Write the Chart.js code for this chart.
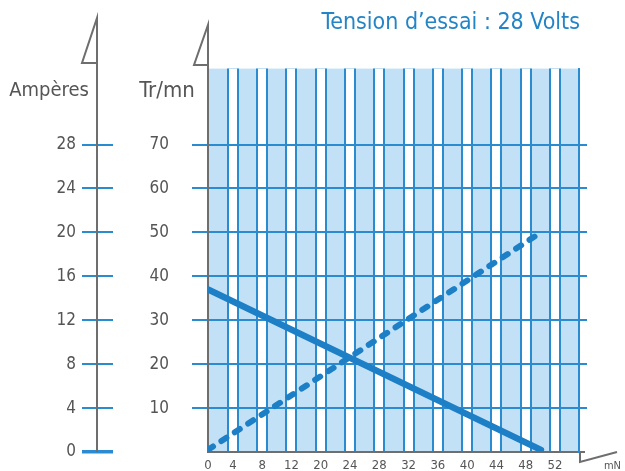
<!DOCTYPE html>
<html>
<head>
<meta charset="utf-8">
<title>Tension d'essai : 28 Volts</title>
<script src="https://cdn.jsdelivr.net/npm/chart.js@4"></script>
<style>
  body { margin: 0; background: #fff; }
  canvas { display: block; }
</style>
</head>
<body>
<canvas id="chart" width="625" height="471"></canvas>
<script>
'use strict'

//tick labels under the plot (printed as in the original, 16 is skipped)
let xLabels = ['0', '4', '8', '12', '20', '24', '28', '32', '36', '40', '44', '48', '52'];
//tick labels on the two left axes
let speedTicks = [10, 20, 30, 40, 50, 60, 70];
let ampTicks = [0, 4, 8, 12, 16, 20, 24, 28];

//x positions of the line ends, in tick-label steps (0 = axis, 12 = "52")
let xMin = 0.15;
let xMax = 12.82;
let loadPos = [0.15, 11.52];
//speed (Tr/mn), solid line
let speed = [37, 0.5];
//current (Ampères), dashed line
let current = [0.2, 20];

//axis tops
let speedMax = 87.3;
let ampMax = speedMax * 0.4;

//colours
let lineBlue = '#1d7fc5';
let gridBlue = '#2a8bd0';
let bandFill = '#c3e1f6';
let axisGray = '#6e6e6e';
let textGray = '#555555';
let font = '"DejaVu Sans Condensed", "Liberation Sans Narrow", sans-serif';

let ctx = document.getElementById('chart').getContext('2d');

function points(xs, ys){
  let out = [];
  for (let i = 0; i < xs.length; i++){
    out.push({x: xs[i], y: ys[i]});
  }
  return out;
}

function setTicks(list){
  return function(scale){
    scale.ticks = list.map(v => ({value: v}));
  };
}

function xTicks(scale){
  let list = [xMin];
  for (let i = 1; i < xLabels.length; i++){
    list.push(i);
  }
  scale.ticks = list.map(v => ({value: v}));
}

//no extra room for the end labels, the plot fills its box
function noPadding(scale){
  scale.paddingTop = 0;
  scale.paddingBottom = 0;
  scale.paddingLeft = 0;
  scale.paddingRight = 0;
}

//light blue plot background
let bandPlugin = {
  id: 'band',
  beforeDraw(chart){
    let a = chart.chartArea;
    let c = chart.ctx;
    c.save();
    c.fillStyle = bandFill;
    c.fillRect(a.left, a.top, a.right - a.left, a.bottom - a.top);
    c.restore();
  }
};

//axis arrows, extra axis line and axis names
let decoPlugin = {
  id: 'deco',
  afterDraw(chart){
    let a = chart.chartArea;
    let c = chart.ctx;
    let ampX = chart.scales.yA.right - 16;
    c.save();
    c.strokeStyle = axisGray;
    c.lineWidth = 2;

    //ampères axis with its flag
    c.beginPath();
    c.moveTo(ampX, a.bottom);
    c.lineTo(ampX, 18);
    c.lineTo(ampX - 15, 63);
    c.lineTo(ampX, 63);
    c.stroke();

    //tr/mn axis going up past the plot, with its flag
    c.beginPath();
    c.moveTo(a.left, a.top);
    c.lineTo(a.left, 25);
    c.lineTo(a.left - 14, 65);
    c.lineTo(a.left, 65);
    c.stroke();

    //mN flag at the end of the bottom axis
    c.beginPath();
    c.moveTo(a.right + 1, a.bottom);
    c.lineTo(a.right + 1, a.bottom + 10);
    c.lineTo(a.right + 38, a.bottom);
    c.stroke();

    c.fillStyle = textGray;
    c.textBaseline = 'middle';
    c.textAlign = 'center';
    c.font = '20px ' + font;
    c.fillText('Ampères', 49, 91);
    c.font = '22px ' + font;
    c.fillText('Tr/mn', 167, 91);
    c.textAlign = 'right';
    c.font = '11px ' + font;
    c.fillText('mN', 621, 466);
    c.restore();
  }
};

let myChartObj = {
  type: 'line',
  data: {
    datasets: [{
      label: 'Tr/mn',
      data: points(loadPos, speed),
      yAxisID: 'y',
      borderColor: lineBlue,
      borderWidth: 6.5,
      borderCapStyle: 'round',
      pointRadius: 0
    },
    {
      label: 'Ampères',
      data: points(loadPos, current),
      yAxisID: 'yA',
      borderColor: lineBlue,
      borderWidth: 6,
      borderCapStyle: 'round',
      borderDash: [6, 10],
      pointRadius: 0
    }]
  },
  options: {
    responsive: false,
    animation: false,
    devicePixelRatio: 1,
    layout: {
      padding: {left: 0, right: 45, top: 0, bottom: 0}
    },
    plugins: {
      legend: {display: false},
      tooltip: {enabled: false},
      title: {
        display: true,
        text: 'Tension d\u2019essai : 28 Volts',
        align: 'end',
        color: '#2384c6',
        font: {family: font, size: 23, weight: 'normal'},
        padding: {top: 9, bottom: 32}
      }
    },
    scales: {
      x: {
        type: 'linear',
        position: 'bottom',
        min: xMin,
        max: xMax,
        afterBuildTicks: xTicks,
        afterFit(scale){ scale.height = 19; noPadding(scale); },
        grid: {
          z: -3,
          lineWidth: 12,
          drawTicks: false,
          color: c => c.index === 0 ? 'rgba(0,0,0,0)' : gridBlue
        },
        border: {color: axisGray, width: 2},
        ticks: {
          color: textGray,
          padding: 6,
          maxRotation: 0,
          autoSkip: false,
          font: {family: font, size: 13},
          callback: (v, i) => xLabels[i]
        }
      },
      //white centre of each vertical grid band
      x2: {
        type: 'linear',
        position: 'bottom',
        min: xMin,
        max: xMax,
        afterBuildTicks: xTicks,
        afterFit(scale){ scale.height = 0; noPadding(scale); },
        grid: {
          z: -2,
          lineWidth: 8,
          drawTicks: false,
          color: c => c.index === 0 ? 'rgba(0,0,0,0)' : '#ffffff'
        },
        border: {display: false},
        ticks: {display: false}
      },
      y: {
        type: 'linear',
        position: 'left',
        weight: 0,
        min: 0,
        max: speedMax,
        afterBuildTicks: setTicks(speedTicks),
        afterFit(scale){ scale.width = 95; noPadding(scale); },
        grid: {z: -1, color: gridBlue, lineWidth: 2, tickLength: 16},
        border: {color: axisGray, width: 2},
        ticks: {
          color: textGray,
          padding: 23,
          font: {family: font, size: 17}
        }
      },
      yA: {
        type: 'linear',
        position: 'left',
        weight: 1,
        min: 0,
        max: ampMax,
        afterBuildTicks: setTicks(ampTicks),
        afterFit(scale){ scale.width = 113; noPadding(scale); },
        grid: {
          drawOnChartArea: false,
          color: gridBlue,
          tickLength: 31,
          lineWidth: c => c.tick && c.tick.value === 0 ? 3.5 : 2
        },
        border: {display: false},
        ticks: {
          color: textGray,
          padding: 6,
          font: {family: font, size: 17}
        }
      },
      //right edge of the plot with its short tick marks
      y2: {
        type: 'linear',
        position: 'right',
        min: 0,
        max: speedMax,
        afterBuildTicks: setTicks(speedTicks),
        afterFit(scale){ scale.width = 1; noPadding(scale); },
        grid: {drawOnChartArea: false, color: gridBlue, lineWidth: 2, tickLength: 8},
        border: {color: gridBlue, width: 2},
        ticks: {display: false}
      }
    }
  },
  plugins: [bandPlugin, decoPlugin]
};

new Chart(ctx, myChartObj);
</script>
</body>
</html>
